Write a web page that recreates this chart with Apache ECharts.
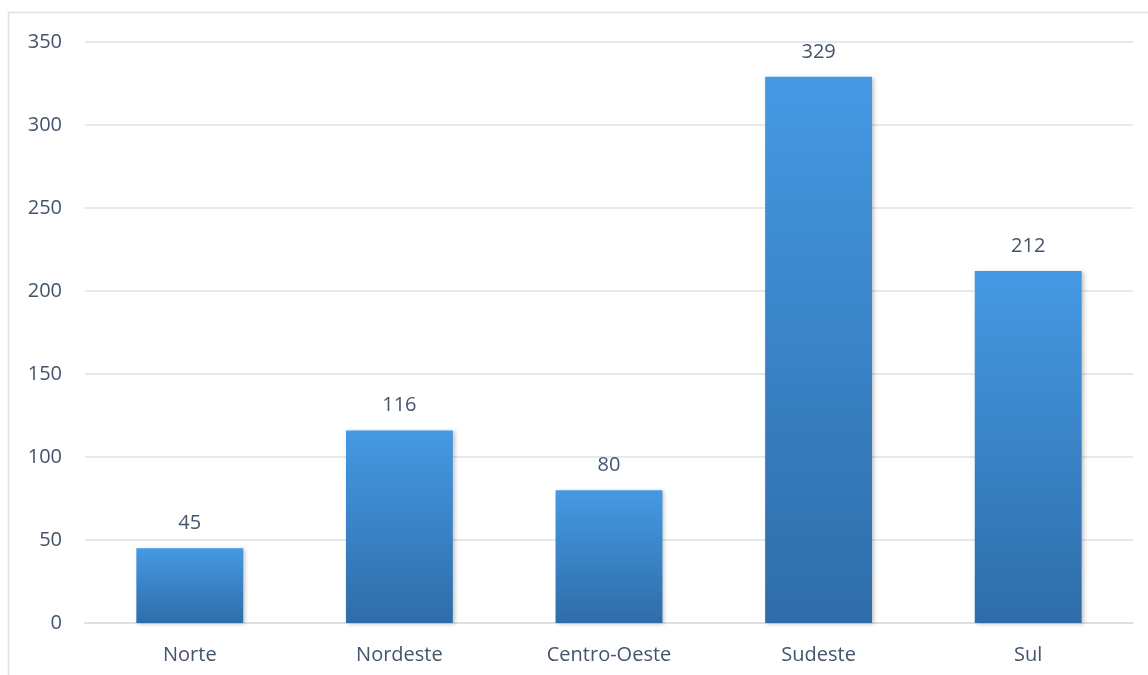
<!DOCTYPE html>
<html>
<head>
<meta charset="utf-8">
<script src="https://cdn.jsdelivr.net/npm/echarts@6/dist/echarts.min.js"></script>
<style>
  html, body { margin: 0; padding: 0; background: #fff; }
  #chart { width: 1148px; height: 675px; }
</style>
</head>
<body>
<div id="chart"></div>
<script>
// Regions of Brazil and their counts
const regions = ['Norte', 'Nordeste', 'Centro-Oeste', 'Sudeste', 'Sul'];
const counts = [45, 116, 80, 329, 212];
const yTicks = { min: 0, max: 350, step: 50 };

const textColor = '#44546A';
const gridColor = '#DCE0E6';
const font = 'Open Sans';

const chart = echarts.init(document.getElementById('chart'));
chart.setOption({
  backgroundColor: '#fff',
  animation: false,
  graphic: [{
    type: 'rect',
    shape: { x: 8.5, y: 12.5, width: 1300, height: 800 },
    style: { fill: 'none', stroke: gridColor, lineWidth: 1.5 },
    silent: true
  }],
  grid: { left: 85, right: 15, top: 42, bottom: 52 },
  xAxis: {
    type: 'category',
    data: regions,
    axisTick: { show: false },
    axisLine: { show: true, lineStyle: { color: gridColor, width: 2 } },
    axisLabel: { color: textColor, fontFamily: font, fontSize: 20, margin: 22 }
  },
  yAxis: {
    type: 'value',
    min: yTicks.min,
    max: yTicks.max,
    interval: yTicks.step,
    axisLine: { show: false },
    axisTick: { show: false },
    splitLine: { lineStyle: { color: gridColor, width: 1.5 } },
    axisLabel: { color: textColor, fontFamily: font, fontSize: 20, margin: 23 }
  },
  series: [{
    type: 'bar',
    data: counts,
    barWidth: '51%',
    itemStyle: {
      color: new echarts.graphic.LinearGradient(0, 0, 0, 1, [
        { offset: 0, color: '#4599E3' },
        { offset: 1, color: '#2E6DA9' }
      ]),
      shadowColor: 'rgba(0,0,0,0.22)',
      shadowBlur: 4,
      shadowOffsetX: 2,
      shadowOffsetY: 1
    },
    label: {
      show: true,
      position: 'top',
      distance: 15,
      color: textColor,
      fontFamily: font,
      fontSize: 20
    }
  }]
});
</script>
</body>
</html>
